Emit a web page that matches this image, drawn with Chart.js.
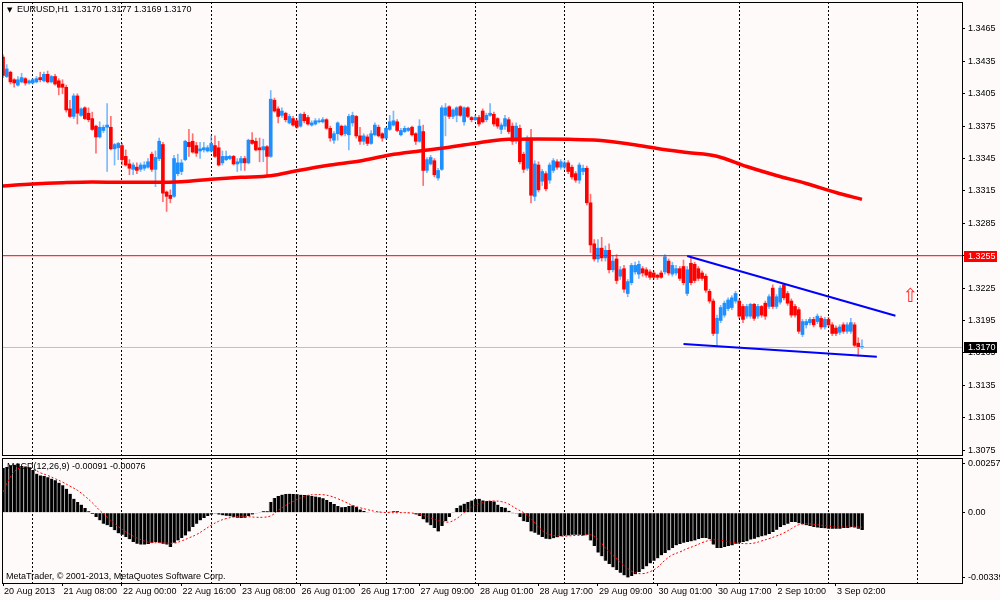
<!DOCTYPE html>
<html>
<head>
<meta charset="utf-8">
<title>EURUSD,H1</title>
<script src="https://cdn.jsdelivr.net/npm/chart.js@4.4.0/dist/chart.umd.min.js"></script>
<style>
  html, body { margin: 0; padding: 0; background: #fffafa; }
  #wrap { position: relative; width: 1000px; height: 600px; }
  canvas { position: absolute; left: 0; }
  #main { top: 0; }
  #macd { top: 457px; }
</style>
</head>
<body>
<div id="wrap">
  <canvas id="main" width="1000" height="457"></canvas>
  <canvas id="macd" width="1000" height="143"></canvas>
</div>
<script>
// EURUSD H1, bar 0 = 20 Aug 2013 16:00 ... bar 231 = 3 Sep 2013 09:00
const openP = [
  1.3439,1.3421,1.3425,1.3418,1.3413,1.3416,1.3419,1.3415,1.3415,1.3416,
  1.3420,1.3417,1.3423,1.3416,1.3421,1.3417,1.3414,1.3411,1.3391,1.3384,
  1.3403,1.3385,1.3392,1.3387,1.3382,1.3375,1.3365,1.3371,1.3374,1.3374,
  1.3354,1.3355,1.3357,1.3347,1.3340,1.3335,1.3337,1.3335,1.3336,1.3337,
  1.3349,1.3335,1.3345,1.3358,1.3314,1.3311,1.3310,1.3331,1.3333,1.3344,
  1.3360,1.3361,1.3357,1.3352,1.3353,1.3352,1.3352,1.3357,1.3355,1.3341,
  1.3344,1.3345,1.3347,1.3340,1.3341,1.3345,1.3341,1.3362,1.3361,1.3355,
  1.3353,1.3356,1.3347,1.3399,1.3391,1.3385,1.3387,1.3378,1.3382,1.3380,
  1.3375,1.3386,1.3383,1.3376,1.3377,1.3379,1.3379,1.3381,1.3373,1.3362,
  1.3368,1.3375,1.3368,1.3367,1.3378,1.3384,1.3366,1.3361,1.3365,1.3359,
  1.3367,1.3374,1.3368,1.3364,1.3372,1.3376,1.3379,1.3367,1.3370,1.3371,
  1.3374,1.3368,1.3361,1.3370,1.3334,1.3340,1.3343,1.3327,1.3335,1.3385,
  1.3393,1.3384,1.3385,1.3393,1.3379,1.3392,1.3383,1.3381,1.3383,1.3389,
  1.3381,1.3385,1.3386,1.3382,1.3372,1.3375,1.3381,1.3375,1.3361,1.3373,
  1.3349,1.3336,1.3364,1.3310,1.3339,1.3324,1.3331,1.3325,1.3334,1.3342,
  1.3337,1.3337,1.3341,1.3337,1.3331,1.3325,1.3333,1.3336,1.3304,1.3266,
  1.3252,1.3262,1.3253,1.3260,1.3242,1.3252,1.3236,1.3243,1.3220,1.3230,
  1.3240,1.3238,1.3243,1.3242,1.3240,1.3239,1.3237,1.3239,1.3240,1.3250,
  1.3238,1.3239,1.3243,1.3245,1.3220,1.3248,1.3247,1.3243,1.3239,1.3236,
  1.3222,1.3213,1.3183,1.3195,1.3200,1.3206,1.3207,1.3213,1.3213,1.3208,
  1.3199,1.3199,1.3210,1.3199,1.3208,1.3211,1.3208,1.3225,1.3208,1.3212,
  1.3228,1.3220,1.3213,1.3208,1.3205,1.3182,1.3191,1.3193,1.3196,1.3194,
  1.3197,1.3189,1.3196,1.3191,1.3188,1.3184,1.3191,1.3185,1.3185,1.3191,
  1.3174,1.3170
];
const highP = [
  1.3441,1.3432,1.3426,1.3419,1.3421,1.3424,1.3420,1.3418,1.3419,1.3421,
  1.3425,1.3425,1.3426,1.3422,1.3423,1.3419,1.3418,1.3413,1.3399,1.3405,
  1.3405,1.3392,1.3393,1.3392,1.3388,1.3376,1.3379,1.3376,1.3396,1.3384,
  1.3359,1.3360,1.3359,1.3353,1.3344,1.3341,1.3341,1.3341,1.3342,1.3345,
  1.3351,1.3352,1.3364,1.3360,1.3315,1.3316,1.3348,1.3349,1.3344,1.3362,
  1.3372,1.3368,1.3360,1.3360,1.3360,1.3357,1.3366,1.3366,1.3361,1.3352,
  1.3352,1.3348,1.3348,1.3345,1.3347,1.3347,1.3363,1.3369,1.3364,1.3364,
  1.3363,1.3357,1.3408,1.3401,1.3393,1.3392,1.3388,1.3386,1.3384,1.3382,
  1.3387,1.3388,1.3385,1.3380,1.3382,1.3382,1.3383,1.3382,1.3375,1.3370,
  1.3379,1.3376,1.3376,1.3386,1.3388,1.3385,1.3374,1.3368,1.3367,1.3371,
  1.3378,1.3376,1.3369,1.3374,1.3385,1.3389,1.3381,1.3373,1.3375,1.3374,
  1.3375,1.3369,1.3381,1.3376,1.3346,1.3348,1.3345,1.3336,1.3394,1.3396,
  1.3394,1.3391,1.3393,1.3394,1.3393,1.3393,1.3384,1.3385,1.3385,1.3391,
  1.3387,1.3396,1.3388,1.3383,1.3378,1.3385,1.3383,1.3378,1.3378,1.3376,
  1.3351,1.3366,1.3372,1.3343,1.3342,1.3335,1.3333,1.3341,1.3345,1.3344,
  1.3344,1.3343,1.3343,1.3339,1.3333,1.3341,1.3339,1.3338,1.3312,1.3270,
  1.3270,1.3272,1.3264,1.3266,1.3255,1.3256,1.3245,1.3246,1.3233,1.3248,
  1.3249,1.3250,1.3245,1.3244,1.3242,1.3241,1.3238,1.3241,1.3256,1.3252,
  1.3249,1.3246,1.3245,1.3251,1.3245,1.3255,1.3249,1.3245,1.3241,1.3238,
  1.3224,1.3215,1.3200,1.3209,1.3213,1.3216,1.3218,1.3222,1.3215,1.3210,
  1.3210,1.3211,1.3211,1.3210,1.3209,1.3213,1.3219,1.3228,1.3219,1.3227,
  1.3229,1.3222,1.3215,1.3210,1.3207,1.3196,1.3196,1.3198,1.3198,1.3201,
  1.3199,1.3198,1.3198,1.3193,1.3190,1.3191,1.3193,1.3193,1.3197,1.3193,
  1.3179,1.3177
];
const lowP = [
  1.3420,1.3420,1.3414,1.3411,1.3412,1.3415,1.3413,1.3414,1.3414,1.3415,
  1.3416,1.3416,1.3415,1.3415,1.3413,1.3404,1.3405,1.3388,1.3383,1.3382,
  1.3377,1.3384,1.3381,1.3379,1.3371,1.3350,1.3364,1.3369,1.3333,1.3353,
  1.3339,1.3344,1.3339,1.3338,1.3330,1.3330,1.3331,1.3333,1.3334,1.3336,
  1.3333,1.3319,1.3343,1.3305,1.3296,1.3304,1.3309,1.3329,1.3330,1.3343,
  1.3347,1.3350,1.3347,1.3345,1.3351,1.3351,1.3351,1.3346,1.3338,1.3339,
  1.3343,1.3344,1.3339,1.3333,1.3334,1.3334,1.3340,1.3358,1.3352,1.3342,
  1.3342,1.3330,1.3346,1.3388,1.3378,1.3383,1.3379,1.3377,1.3375,1.3373,
  1.3374,1.3378,1.3376,1.3375,1.3376,1.3378,1.3378,1.3372,1.3361,1.3359,
  1.3362,1.3366,1.3366,1.3353,1.3375,1.3364,1.3358,1.3358,1.3357,1.3358,
  1.3366,1.3365,1.3361,1.3363,1.3371,1.3375,1.3370,1.3366,1.3369,1.3370,
  1.3366,1.3358,1.3360,1.3320,1.3332,1.3339,1.3328,1.3325,1.3334,1.3366,
  1.3382,1.3382,1.3379,1.3384,1.3376,1.3383,1.3379,1.3380,1.3375,1.3378,
  1.3379,1.3384,1.3375,1.3373,1.3368,1.3372,1.3368,1.3358,1.3359,1.3340,
  1.3332,1.3334,1.3304,1.3306,1.3314,1.3320,1.3315,1.3322,1.3332,1.3335,
  1.3335,1.3335,1.3331,1.3326,1.3323,1.3322,1.3330,1.3302,1.3258,1.3250,
  1.3249,1.3250,1.3250,1.3239,1.3240,1.3229,1.3233,1.3221,1.3217,1.3228,
  1.3238,1.3234,1.3236,1.3235,1.3233,1.3233,1.3233,1.3234,1.3238,1.3237,
  1.3236,1.3237,1.3232,1.3228,1.3218,1.3228,1.3230,1.3232,1.3232,1.3221,
  1.3211,1.3181,1.3172,1.3193,1.3198,1.3204,1.3205,1.3211,1.3197,1.3193,
  1.3197,1.3197,1.3195,1.3197,1.3198,1.3196,1.3206,1.3206,1.3206,1.3210,
  1.3214,1.3209,1.3198,1.3198,1.3183,1.3180,1.3188,1.3191,1.3189,1.3192,
  1.3187,1.3187,1.3189,1.3181,1.3181,1.3182,1.3183,1.3183,1.3183,1.3170,
  1.3162,1.3169
];
const closeP = [
  1.3422,1.3428,1.3416,1.3415,1.3418,1.3420,1.3415,1.3417,1.3418,1.3419,
  1.3418,1.3423,1.3416,1.3421,1.3414,1.3411,1.3411,1.3390,1.3384,1.3403,
  1.3387,1.3391,1.3382,1.3381,1.3372,1.3365,1.3374,1.3374,1.3376,1.3354,
  1.3358,1.3359,1.3344,1.3339,1.3336,1.3339,1.3334,1.3339,1.3339,1.3342,
  1.3335,1.3346,1.3361,1.3313,1.3310,1.3308,1.3345,1.3341,1.3341,1.3361,
  1.3356,1.3351,1.3350,1.3354,1.3355,1.3355,1.3359,1.3347,1.3339,1.3347,
  1.3347,1.3347,1.3340,1.3342,1.3345,1.3341,1.3362,1.3359,1.3353,1.3353,
  1.3356,1.3347,1.3400,1.3389,1.3384,1.3389,1.3381,1.3384,1.3376,1.3374,
  1.3386,1.3380,1.3377,1.3378,1.3380,1.3380,1.3381,1.3373,1.3364,1.3368,
  1.3378,1.3367,1.3375,1.3384,1.3385,1.3366,1.3361,1.3366,1.3359,1.3368,
  1.3376,1.3366,1.3364,1.3373,1.3379,1.3380,1.3371,1.3371,1.3373,1.3373,
  1.3367,1.3361,1.3375,1.3334,1.3344,1.3346,1.3330,1.3334,1.3392,1.3392,
  1.3384,1.3390,1.3392,1.3385,1.3392,1.3384,1.3381,1.3383,1.3377,1.3379,
  1.3385,1.3387,1.3377,1.3375,1.3376,1.3382,1.3370,1.3361,1.3375,1.3342,
  1.3335,1.3364,1.3311,1.3340,1.3316,1.3333,1.3317,1.3339,1.3343,1.3337,
  1.3342,1.3341,1.3333,1.3328,1.3325,1.3339,1.3336,1.3304,1.3265,1.3252,
  1.3262,1.3253,1.3260,1.3242,1.3250,1.3232,1.3242,1.3224,1.3231,1.3246,
  1.3246,1.3247,1.3239,1.3237,1.3235,1.3235,1.3235,1.3235,1.3254,1.3239,
  1.3246,1.3243,1.3234,1.3230,1.3242,1.3230,1.3232,1.3234,1.3234,1.3223,
  1.3213,1.3183,1.3197,1.3207,1.3211,1.3214,1.3216,1.3220,1.3199,1.3196,
  1.3208,1.3210,1.3197,1.3208,1.3200,1.3199,1.3217,1.3208,1.3217,1.3225,
  1.3216,1.3211,1.3200,1.3200,1.3185,1.3194,1.3194,1.3196,1.3191,1.3199,
  1.3189,1.3196,1.3191,1.3183,1.3183,1.3189,1.3185,1.3191,1.3193,1.3172,
  1.3170,1.3170
];

// red moving average, read at these bars
const maIdx = [0, 8, 16, 24, 32, 40, 48, 56, 64, 72, 79, 88, 96, 104, 112,
  120, 128, 136, 144, 152, 160, 168, 176, 184, 192, 200, 208, 216, 224, 231];
const maVal = [1.33196, 1.33214, 1.33226, 1.33233, 1.33230, 1.33230, 1.33235, 1.33258,
  1.33276, 1.33291, 1.33337, 1.33390, 1.33427, 1.33483, 1.33520, 1.33554, 1.33597,
  1.33628, 1.33631, 1.33628, 1.33619, 1.33587, 1.33543, 1.33506, 1.33471, 1.33376,
  1.33293, 1.33219, 1.33135, 1.33072];

// MACD(12,26,9) main line (histogram), one per bar
const macdHist = [
  0.00234, 0.00239, 0.00248, 0.00251, 0.00257, 0.00244, 0.00242, 0.00237, 0.00223, 0.00204,
  0.00195, 0.00192, 0.00185, 0.00178, 0.00169, 0.00157, 0.00143, 0.00125, 0.00099, 0.00073,
  0.00056, 0.00042, 0.00024, 0.00007, -0.00007, -0.00023, -0.00040, -0.00058, -0.00066, -0.00075,
  -0.00092, -0.00108, -0.00115, -0.00127, -0.00139, -0.00153, -0.00162, -0.00167, -0.00167, -0.00164,
  -0.00157, -0.00153, -0.00157, -0.00162, -0.00167, -0.00180, -0.00157, -0.00145, -0.00132, -0.00119,
  -0.00098, -0.00075, -0.00058, -0.00040, -0.00028, -0.00017, -0.00010, -0.00005, -0.00010, -0.00014,
  -0.00016, -0.00019, -0.00023, -0.00026, -0.00028, -0.00026, -0.00017, -0.00009, -0.00002, 0.00003,
  0.00007, 0.00007, 0.00056, 0.00077, 0.00087, 0.00094, 0.00098, 0.00099, 0.00098, 0.00096,
  0.00094, 0.00092, 0.00091, 0.00087, 0.00084, 0.00080, 0.00075, 0.00066, 0.00056, 0.00045,
  0.00035, 0.00028, 0.00030, 0.00035, 0.00038, 0.00030, 0.00017, 0.00009, 0.00003, 0.00002,
  0.00003, 0.00005, 0.00003, 0.00002, 0.00005, 0.00007, 0.00007, 0.00003, 0.00002, -0.00001,
  -0.00003, -0.00009, -0.00017, -0.00035, -0.00052, -0.00066, -0.00080, -0.00098, -0.00070, -0.00045,
  -0.00023, 0.00003, 0.00024, 0.00038, 0.00047, 0.00056, 0.00063, 0.00070, 0.00073, 0.00064,
  0.00061, 0.00061, 0.00059, 0.00042, 0.00030, 0.00026, 0.00010, -0.00001, -0.00005, -0.00023,
  -0.00045, -0.00049, -0.00098, -0.00105, -0.00115, -0.00127, -0.00136, -0.00139, -0.00134, -0.00129,
  -0.00124, -0.00119, -0.00119, -0.00115, -0.00115, -0.00115, -0.00119, -0.00115, -0.00145, -0.00174,
  -0.00209, -0.00228, -0.00251, -0.00268, -0.00286, -0.00300, -0.00315, -0.00328, -0.00339, -0.00331,
  -0.00322, -0.00310, -0.00296, -0.00281, -0.00265, -0.00251, -0.00239, -0.00223, -0.00211, -0.00197,
  -0.00185, -0.00171, -0.00164, -0.00157, -0.00153, -0.00150, -0.00145, -0.00138, -0.00132, -0.00132,
  -0.00139, -0.00167, -0.00185, -0.00185, -0.00180, -0.00174, -0.00171, -0.00162, -0.00157, -0.00153,
  -0.00150, -0.00141, -0.00136, -0.00129, -0.00124, -0.00119, -0.00112, -0.00101, -0.00089, -0.00075,
  -0.00066, -0.00058, -0.00049, -0.00049, -0.00056, -0.00061, -0.00066, -0.00070, -0.00075, -0.00078,
  -0.00080, -0.00082, -0.00084, -0.00084, -0.00084, -0.00084, -0.00080, -0.00080, -0.00075, -0.00077,
  -0.00084, -0.00091
];

// MACD signal line, read every second bar
const sigIdx = [0, 2, 4, 6, 8, 10, 12, 14, 16, 18, 20, 22, 24, 26, 28, 30, 32, 34, 36, 38,
  40, 42, 44, 46, 48, 50, 52, 54, 56, 58, 60, 62, 64, 66, 68, 70, 72, 74, 76, 78,
  80, 82, 84, 86, 88, 90, 92, 94, 96, 98, 100, 102, 104, 106, 108, 110, 112, 114, 116, 118,
  120, 122, 124, 126, 128, 130, 132, 134, 136, 138, 140, 142, 144, 146, 148, 150, 152, 154, 156, 158,
  160, 162, 164, 166, 168, 170, 172, 174, 176, 178, 180, 182, 184, 186, 188, 190, 192, 194, 196, 198,
  200, 202, 204, 206, 208, 210, 212, 214, 216, 218, 220, 222, 224, 226, 228, 230, 231];
const sigVal = [0.00108, 0.00187, 0.00230, 0.00237, 0.00230, 0.00209, 0.00195, 0.00178, 0.00160, 0.00139,
  0.00117, 0.00087, 0.00052, 0.00012, -0.00023, -0.00058, -0.00087, -0.00112, -0.00132, -0.00148,
  -0.00157, -0.00157, -0.00159, -0.00160, -0.00148, -0.00132, -0.00115, -0.00091, -0.00066, -0.00045,
  -0.00031, -0.00023, -0.00019, -0.00021, -0.00024, -0.00024, -0.00017, 0.00012, 0.00038, 0.00059,
  0.00077, 0.00091, 0.00094, 0.00094, 0.00087, 0.00073, 0.00056, 0.00038, 0.00026, 0.00016,
  0.00007, 0.00002, 0.00000, 0.00000, 0.00000, -0.00002, -0.00009, -0.00021, -0.00035, -0.00045,
  -0.00049, -0.00031, 0.00000, 0.00030, 0.00047, 0.00059, 0.00061, 0.00058, 0.00045, 0.00021,
  0.00000, -0.00031, -0.00075, -0.00106, -0.00119, -0.00122, -0.00122, -0.00119, -0.00119, -0.00115,
  -0.00139, -0.00185, -0.00223, -0.00258, -0.00293, -0.00314, -0.00319, -0.00309, -0.00286, -0.00249,
  -0.00221, -0.00206, -0.00188, -0.00174, -0.00157, -0.00145, -0.00141, -0.00148, -0.00155, -0.00160,
  -0.00162, -0.00159, -0.00148, -0.00136, -0.00122, -0.00106, -0.00084, -0.00063, -0.00058, -0.00061,
  -0.00066, -0.00070, -0.00075, -0.00075, -0.00075, -0.00075, -0.00076];

// objects drawn on the chart
const levelRed = 1.3255;
const levelBid = 1.3170;
const trendHiX = [184, 240], trendHiY = [1.32547, 1.31994];
const trendLoX = [183, 235], trendLoY = [1.31732, 1.31614];
const arrowX = 244, arrowY = 1.3217;

// axes
const priceTicks = [1.3465, 1.3435, 1.3405, 1.3375, 1.3345, 1.3315, 1.3285, 1.3255,
  1.3225, 1.3195, 1.3165, 1.3135, 1.3105, 1.3075];
const macdTicks = [0.00257, 0, -0.00339];
const macdTickText = ['0.00257', '0.00', '-0.00339'];
const timeIdx = [0, 16, 32, 48, 64, 80, 96, 112, 128, 144, 160, 176, 192, 208, 224];
const timeText = ['20 Aug 2013', '21 Aug 08:00', '22 Aug 00:00', '22 Aug 16:00', '23 Aug 08:00',
  '26 Aug 01:00', '26 Aug 17:00', '27 Aug 09:00', '28 Aug 01:00', '28 Aug 17:00',
  '29 Aug 09:00', '30 Aug 01:00', '30 Aug 17:00', '2 Sep 10:00', '3 Sep 02:00'];
const dayIdx = [8, 32, 56, 79, 103, 127, 151, 175, 198, 222, 246];

const X_MIN = -0.27, X_MAX = 257.9;
const BULL = '#1e8fff', BEAR = '#ff0000';
const FONT = '"Liberation Sans", Arial, sans-serif';

Chart.defaults.font.family = FONT;
Chart.defaults.font.size = 9;
Chart.defaults.color = '#000';

const isBull = i => closeP[i] >= openP[i];

const framePlugin = {
  id: 'frame',
  afterDraw(chart) {
    const { ctx, chartArea: a } = chart;
    ctx.save();
    ctx.strokeStyle = '#000';
    ctx.lineWidth = 1;
    ctx.strokeRect(a.left + 0.5, a.top + 0.5, a.right - a.left, a.bottom - a.top);
    ctx.restore();
  }
};

function priceBox(ctx, yPix, bg, txt) {
  const y = Math.round(yPix);
  ctx.fillStyle = bg;
  ctx.fillRect(964, y - 5, 33, 11);
  ctx.fillStyle = '#fff';
  ctx.textAlign = 'left';
  ctx.textBaseline = 'middle';
  ctx.font = '9px ' + FONT;
  ctx.fillText(txt, 968, y + 0.5);
}

const mainOverlay = {
  id: 'mainOverlay',
  afterDraw(chart) {
    const { ctx, scales: { x, y } } = chart;
    ctx.save();
    ctx.fillStyle = '#000';
    ctx.textBaseline = 'middle';
    ctx.font = '7px "DejaVu Sans"';
    ctx.fillText('▼', 7, 10);
    ctx.font = '9px ' + FONT;
    ctx.fillText('EURUSD,H1  1.3170 1.3177 1.3169 1.3170', 17, 10);

    // up-arrow object
    ctx.fillStyle = '#ff2a2a';
    ctx.font = '19px "DejaVu Sans"';
    ctx.textAlign = 'center';
    ctx.fillText('⇧', x.getPixelForValue(arrowX), y.getPixelForValue(arrowY));

    priceBox(ctx, y.getPixelForValue(levelRed), '#ff0000', levelRed.toFixed(4));
    priceBox(ctx, y.getPixelForValue(levelBid), '#000', levelBid.toFixed(4));
    ctx.restore();
  }
};

const noPad = s => { s.paddingTop = 0; s.paddingBottom = 0; s.paddingLeft = 0; s.paddingRight = 0; };

new Chart(document.getElementById('main'), {
  type: 'bar',
  data: {
    datasets: [
      {
        type: 'line', order: 1,
        data: trendHiX.map((v, i) => ({ x: v, y: trendHiY[i] })),
        borderColor: '#0000ff', borderWidth: 2, pointRadius: 0
      },
      {
        type: 'line', order: 1,
        data: trendLoX.map((v, i) => ({ x: v, y: trendLoY[i] })),
        borderColor: '#0000ff', borderWidth: 2, pointRadius: 0
      },
      {
        type: 'line', order: 2,
        data: [{ x: X_MIN, y: levelRed }, { x: X_MAX, y: levelRed }],
        borderColor: '#ff0000', borderWidth: 1, pointRadius: 0
      },
      {
        type: 'line', order: 2,
        data: [{ x: X_MIN, y: levelBid }, { x: X_MAX, y: levelBid }],
        borderColor: '#c0c0c0', borderWidth: 1, pointRadius: 0
      },
      {
        type: 'line', order: 3,
        data: maIdx.map((k, i) => ({ x: k, y: maVal[i] })),
        borderColor: '#ff0000', borderWidth: 3.5, pointRadius: 0,
        cubicInterpolationMode: 'monotone'
      },
      {
        order: 4, grouped: false, barThickness: 3, minBarLength: 1,
        data: openP.map((o, i) => ({ x: i, y: [o, closeP[i]] })),
        backgroundColor: c => isBull(c.dataIndex) ? BULL : BEAR
      },
      {
        order: 5, grouped: false, barThickness: 1,
        data: openP.map((o, i) => ({ x: i, y: [lowP[i], highP[i]] })),
        backgroundColor: c => isBull(c.dataIndex) ? 'rgba(30,143,255,0.6)' : 'rgba(255,0,0,0.55)'
      }
    ]
  },
  options: {
    responsive: false,
    animation: false,
    devicePixelRatio: 1,
    events: [],
    layout: { padding: { left: 2, top: 2, right: 0, bottom: 2 } },
    plugins: { legend: { display: false }, tooltip: { enabled: false } },
    scales: {
      x: {
        type: 'linear', min: X_MIN, max: X_MAX, offset: false,
        afterFit(s) { s.height = 0; noPad(s); },
        afterBuildTicks(s) { s.ticks = dayIdx.map(v => ({ value: v })); },
        ticks: { display: false },
        grid: { color: '#000', lineWidth: 1, drawTicks: false, offset: false },
        border: { display: false, dash: [2, 2] }
      },
      y: {
        position: 'right', min: 1.30704, max: 1.34900,
        afterFit(s) { s.width = 38; noPad(s); },
        afterBuildTicks(s) { s.ticks = priceTicks.map(v => ({ value: v })); },
        ticks: { autoSkip: false, padding: 3, callback: v => v.toFixed(4) },
        grid: { drawOnChartArea: false, drawTicks: true, tickLength: 3, color: '#000' },
        border: { display: false }
      }
    }
  },
  plugins: [framePlugin, mainOverlay]
});

const macdOverlay = {
  id: 'macdOverlay',
  afterDraw(chart) {
    const { ctx } = chart;
    ctx.save();
    ctx.fillStyle = '#000';
    ctx.textBaseline = 'middle';
    ctx.font = '9px ' + FONT;
    ctx.fillText('MACD(12,26,9) -0.00091 -0.00076', 7, 10);
    ctx.fillText('MetaTrader, © 2001-2013, MetaQuotes Software Corp.', 6, 120);
    ctx.restore();
  }
};

new Chart(document.getElementById('macd'), {
  type: 'bar',
  data: {
    datasets: [
      {
        type: 'line', order: 0,
        data: sigIdx.map((k, i) => ({ x: k, y: sigVal[i] })),
        borderColor: '#ff0000', borderWidth: 1, borderDash: [2, 2],
        pointRadius: 0, tension: 0.4
      },
      {
        order: 1, grouped: false, barThickness: 3.7,
        data: macdHist.map((v, i) => ({ x: i, y: v })),
        backgroundColor: '#000',
        borderColor: '#a8a8a8',
        borderWidth: { left: 1, right: 0, top: 0, bottom: 0 },
        borderSkipped: false
      }
    ]
  },
  options: {
    responsive: false,
    animation: false,
    devicePixelRatio: 1,
    events: [],
    layout: { padding: { left: 2, top: 1, right: 0, bottom: 0 } },
    plugins: { legend: { display: false }, tooltip: { enabled: false } },
    scales: {
      x: {
        type: 'linear', min: X_MIN, max: X_MAX, offset: false,
        afterFit(s) { s.height = 17; noPad(s); },
        afterBuildTicks(s) { s.ticks = timeIdx.map(v => ({ value: v })); },
        ticks: {
          autoSkip: false, maxRotation: 0, minRotation: 0, align: 'start',
          labelOffset: 1, padding: 0,
          callback: (v, i) => timeText[i]
        },
        grid: { drawOnChartArea: false, drawTicks: true, tickLength: 3, color: '#000', offset: false },
        border: { display: false }
      },
      xg: {
        type: 'linear', position: 'bottom', min: X_MIN, max: X_MAX, offset: false,
        afterFit(s) { s.height = 0; noPad(s); },
        afterBuildTicks(s) { s.ticks = dayIdx.map(v => ({ value: v })); },
        ticks: { display: false },
        grid: { color: '#000', lineWidth: 1, drawTicks: false, offset: false },
        border: { display: false, dash: [2, 2] }
      },
      y: {
        position: 'right', min: -0.00368, max: 0.00286,
        afterFit(s) { s.width = 38; noPad(s); },
        afterBuildTicks(s) { s.ticks = macdTicks.map(v => ({ value: v })); },
        ticks: { autoSkip: false, padding: 3, callback: (v, i) => macdTickText[i] },
        grid: { drawOnChartArea: false, drawTicks: true, tickLength: 3, color: '#000' },
        border: { display: false }
      }
    }
  },
  plugins: [framePlugin, macdOverlay]
});
</script>
</body>
</html>
